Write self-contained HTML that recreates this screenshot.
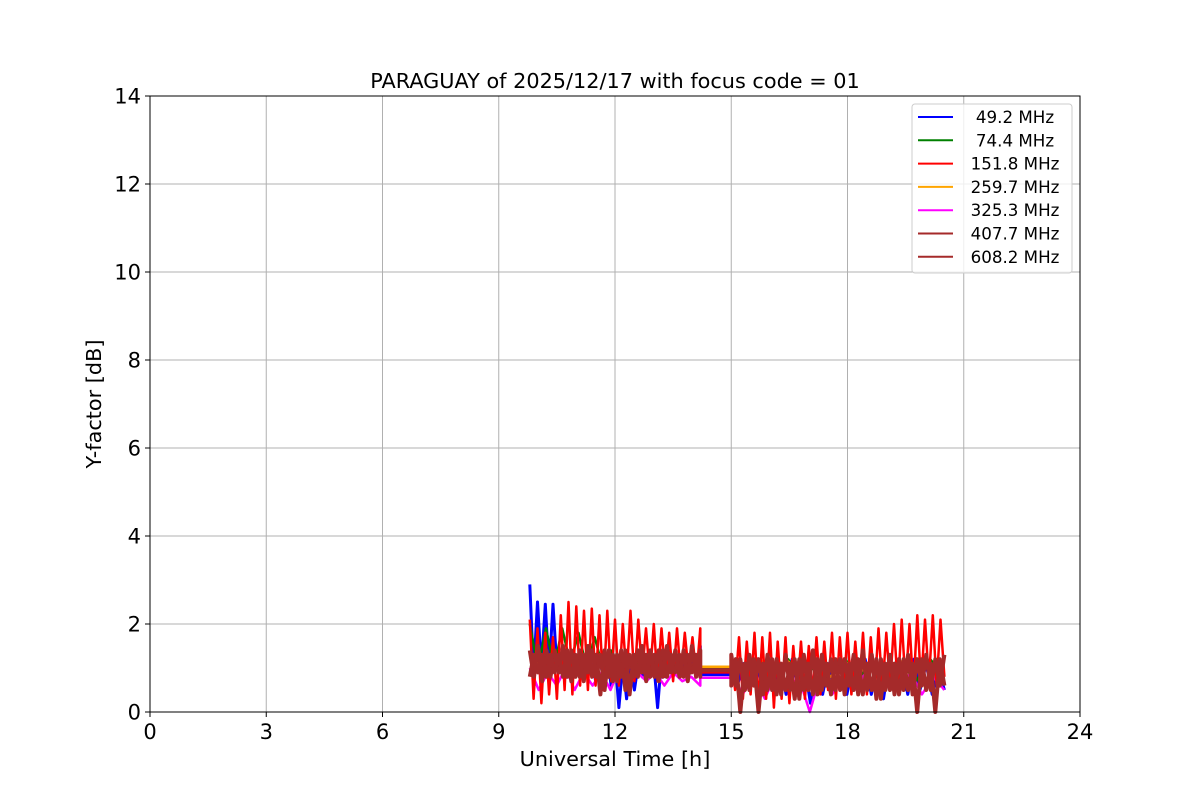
<!DOCTYPE html>
<html><head><meta charset="utf-8"><style>
body{margin:0;background:#fff}
svg text{font-family:"DejaVu Sans","Liberation Sans",sans-serif;fill:#000}
</style></head><body>
<svg id="chart" width="1200" height="800" xmlns="http://www.w3.org/2000/svg">
<rect width="1200" height="800" fill="#fff"/>
<g id="grid"></g>
<g id="series"></g>
<rect x="150" y="96" width="930" height="616" fill="none" stroke="#000" stroke-width="1"/>
<g id="ticks"></g>
<text x="615" y="88" font-size="20.8" text-anchor="middle">PARAGUAY of 2025/12/17 with focus code = 01</text>
<text x="615" y="766" font-size="20.8" text-anchor="middle">Universal Time [h]</text>
<text transform="translate(101,404) rotate(-90)" font-size="20.8" text-anchor="middle">Y-factor [dB]</text>
<g id="legend"></g>
</svg>
<script>
const xTicks=[0,3,6,9,12,15,18,21,24];
const yTicks=[0,2,4,6,8,10,12,14];
const labels=[" 49.2 MHz"," 74.4 MHz","151.8 MHz","259.7 MHz","325.3 MHz","407.7 MHz","608.2 MHz"];
const colors=["#0000ff","#008000","#ff0000","#ffa500","#ff00ff","#a52a2a","#a52a2a"];
const seg1=[9.8,14.2];
const seg2=[15.0,20.5];
const gapLevels=[0.85,1.0,0.9,1.03,0.78,0.95,0.95];
const blue1=[2.9,0.9,2.5,1.0,2.45,0.9,2.45,1.0,1.3,0.9,1.2,0.8,1.3,0.9,1.2,0.8,1.3,0.7,1.2,0.8,1.3,0.6,1.2,0.1,1.1,0.3,1.2,0.5,1.1,0.8,1.2,0.9,1.1,0.1,1.2,0.8,1.1,0.8,1.2,0.9,1.1,0.8,1.2,0.9,1.5];
const blue2=[1.2,0.6,1.1,0.5,1.2,0.6,1.3,0.5,1.1,0.4,1.2,0.5,1.1,0.2,1.2,0.4,1.1,0.5,1.2,0.4,1.1,0.5,1.2,0.4,1.1,0.3,1.2,0.5,1.1,0.4,1.2,0.5,1.1,0.4,1.0,0.5];
const green1=[2.0,1.0,1.9,1.0,1.9,1.1,1.8,1.0,1.7,1.0,1.4,0.9,1.3,1.0,1.3,0.9,1.3,1.0,1.2,0.9,1.3,1.0];
const green2=[1.2,0.8,1.1,0.8,1.2,0.7,1.1,0.8,1.2,0.8,1.1,0.8,1.1,0.7,1.2,0.8];
const red1=[2.1,0.3,1.9,0.2,1.8,0.4,1.7,0.3,2.2,0.5,2.5,0.4,2.4,0.6,2.3,0.5,2.35,0.6,2.2,0.5,2.3,0.7,2.1,0.6,2.0,0.8,2.3,0.7,2.1,0.9,1.9,0.8,2.0,0.7,1.9,0.8,1.8,0.7,1.9,0.8,1.8,0.9,1.7,0.8,1.9];
const red2=[1.3,0.5,1.7,0.3,1.6,0.4,1.8,0.2,1.7,0.3,1.8,0.1,1.6,0.3,1.7,0.2,1.5,0.4,1.6,0.3,1.5,0.4,1.7,0.4,1.6,0.5,1.8,0.3,1.7,0.5,1.8,0.4,1.6,0.5,1.8,0.4,1.7,0.5,1.9,0.5,1.8,0.6,2.0,0.5,2.1,0.6,2.0,0.5,2.2,0.6,2.1,0.7,2.2,0.6,2.1,0.8];
const orange1=[1.3,1.0,1.3,1.0,1.25,1.0,1.3,1.0,1.25,1.0,1.3,1.0,1.25,1.0,1.3,1.0];
const orange2=[1.2,0.9,1.2,0.9,1.15,0.9,1.2,0.8,1.15,0.9,1.1,0.8,1.15,0.9,1.1,0.8];
const magenta1=[1.0,0.5,0.9,0.6,1.0,0.5,0.9,0.6,0.9,0.5,1.0,0.6,0.9,0.7,0.9,0.6,0.9,0.7,0.8,0.6];
const magenta2=[0.9,0.4,0.8,0.3,0.9,0.5,0.8,0.0,0.9,0.4,0.8,0.5,0.9,0.4,0.8,0.5,0.9,0.4,0.8,0.5];
const brown1=[1.4,0.8,1.5,0.7,1.4,0.8,1.4,0.9,1.5,0.8,1.4,0.8,1.4,0.7,1.5,0.8,1.3,0.4,1.4,0.8,1.3,0.7,1.4,0.5,1.3,0.8,1.4,0.9,1.3,0.8,1.3,0.7,1.4,0.8,1.3,0.9,1.3,0.8,1.3,0.9,1.3,0.8];
const brown2=[1.3,0.6,1.2,0.5,1.3,0.6,1.2,0.4,1.3,0.5,1.2,0.4,1.3,0.5,1.2,0.3,1.3,0.5,1.4,0.4,1.3,0.6,1.2,0.5,1.2,0.4,1.1,0.5,1.2,0.4,1.1,0.5,1.2,0.3,1.1,0.5,1.1,0.4,1.2,0.5,1.1,0.0,1.2,0.5,1.1,0.0,1.2,0.6];
const seriesData=[[blue1,blue2],[green1,green2],[red1,red2],[orange1,orange2],[magenta1,magenta2],[brown1,brown2],[brown1.slice().reverse(),brown2.slice().reverse()]];

const NS="http://www.w3.org/2000/svg";
const X0=150,X1=1080,Y0=712,Y1=96;
const xs=v=>X0+(v/24)*(X1-X0);
const ys=v=>Y0-(v/14)*(Y0-Y1);
function mk(tag,attrs,parent){const e=document.createElementNS(NS,tag);for(const k in attrs)e.setAttribute(k,attrs[k]);parent.appendChild(e);return e;}
const grid=document.getElementById('grid'),ticks=document.getElementById('ticks'),ser=document.getElementById('series'),leg=document.getElementById('legend');
xTicks.forEach(t=>{
 const g=mk('line',{x1:xs(t),x2:xs(t),y1:Y1,y2:Y0,stroke:'#b0b0b0','stroke-width':1},grid);
 
 
 mk('line',{x1:xs(t),x2:xs(t),y1:Y0,y2:Y0+5,stroke:'#000'},ticks);
 const l=mk('text',{x:xs(t),y:Y0+27,'font-size':21,'text-anchor':'middle'},ticks);l.textContent=t;
 
 
});
yTicks.forEach(t=>{
 const g=mk('line',{x1:X0,x2:X1,y1:ys(t),y2:ys(t),stroke:'#b0b0b0','stroke-width':1},grid);
 
 
 mk('line',{x1:X0-5,x2:X0,y1:ys(t),y2:ys(t),stroke:'#000'},ticks);
 const l=mk('text',{x:X0-9,y:ys(t)+7.5,'font-size':21,'text-anchor':'end'},ticks);l.textContent=t;
 
 
});
const order=[0,1,3,4,2,5,6];
order.forEach(i=>{
 const [a,b]=seriesData[i];
 let pts=[];
 a.forEach((v,k)=>pts.push([seg1[0]+(seg1[1]-seg1[0])*k/(a.length-1),v]));
 pts.push([seg1[1],gapLevels[i]]);pts.push([seg2[0],gapLevels[i]]);
 b.forEach((v,k)=>pts.push([seg2[0]+(seg2[1]-seg2[0])*k/(b.length-1),v]));
 const p=mk('polyline',{points:pts.map(q=>xs(q[0]).toFixed(1)+','+ys(q[1]).toFixed(1)).join(' '),fill:'none',stroke:colors[i],'stroke-width':i>=5?4:(i===0?3:2.5),'stroke-linejoin':'round'},ser);
 
 
});
const box=mk('rect',{x:912,y:104,width:160,height:169,rx:3,fill:'#fff','fill-opacity':0.8,stroke:'#ccc'},leg);


labels.forEach((lab,i)=>{
 const y=117+i*23.3;
 const ln=mk('line',{x1:918,x2:953,y1:y,y2:y,stroke:colors[i],'stroke-width':2},leg);
 
 
 const t=mk('text',{x:1015,y:y+6,'font-size':16.7,'text-anchor':'middle','xml:space':'preserve'},leg);t.textContent=lab;
 
 
});
</script>
</body></html>
